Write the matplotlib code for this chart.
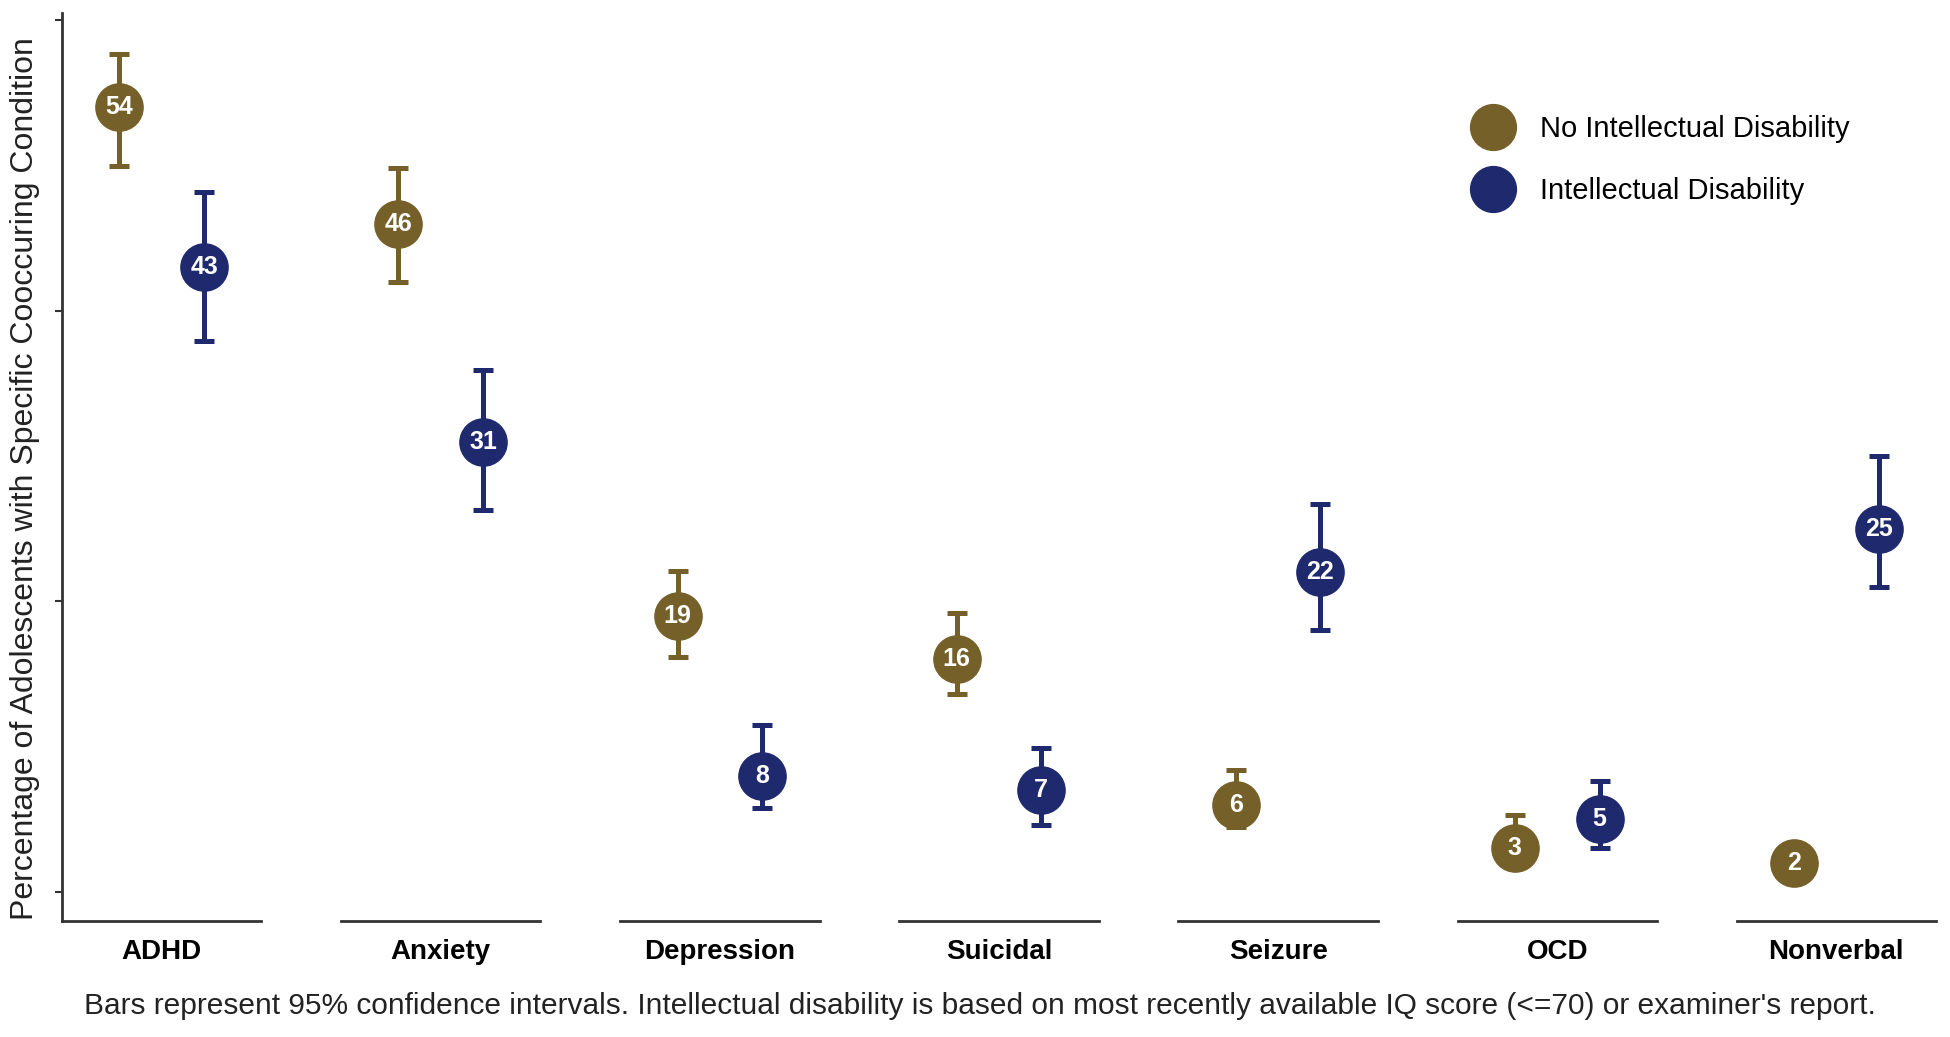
import matplotlib.pyplot as plt
from matplotlib.lines import Line2D

plt.rcParams['font.family'] = ['Liberation Sans', 'DejaVu Sans']

categories = ['ADHD', 'Anxiety', 'Depression', 'Suicidal', 'Seizure', 'OCD', 'Nonverbal']
series_names = ['No Intellectual Disability', 'Intellectual Disability']

# percentages and 95% CI bounds
no_id = [54, 46, 19, 16, 6, 3, 2]
no_id_lo = [50.0, 42.0, 16.2, 13.6, 4.5, 2.0, 1.3]
no_id_hi = [57.7, 49.8, 22.1, 19.2, 8.4, 5.3, 2.8]
yes_id = [43, 31, 8, 7, 22, 5, 25]
yes_id_lo = [37.9, 26.3, 5.8, 4.6, 18.0, 3.0, 21.0]
yes_id_hi = [48.2, 35.9, 11.5, 9.9, 26.7, 7.6, 30.0]

gold = '#76602A'
navy = '#1F2A6E'
colors = [gold, navy]

fig, axes = plt.subplots(1, len(categories), sharey=True, figsize=(19.5, 10.37), dpi=100)
fig.subplots_adjust(left=0.0318, right=0.9928, bottom=0.1119, top=0.9875, wspace=0.4)

series = [(no_id, no_id_lo, no_id_hi), (yes_id, yes_id_lo, yes_id_hi)]

for i, (ax, cat) in enumerate(zip(axes, categories)):
    for k, (vals, lo, hi) in enumerate(series):
        v = vals[i]
        ax.errorbar([k], [v], yerr=[[v - lo[i]], [hi[i] - v]], fmt='none',
                    ecolor=colors[k], elinewidth=3.6, capsize=7, capthick=3.6, zorder=2)
        ax.plot([k], [v], 'o', color=colors[k], markersize=34, zorder=3)
        ax.text(k, v, str(v), ha='center', va='center', color='white',
                fontsize=18, fontweight='bold', zorder=4)
    ax.set_xlim(-0.676, 1.676)
    ax.set_ylim(-2, 60.5)
    ax.set_xticks([0.5])
    ax.set_xticklabels([cat], fontsize=20, fontweight='bold')
    ax.tick_params(axis='x', length=0, pad=13)
    for side in ['top', 'right', 'left']:
        ax.spines[side].set_visible(False)
    ax.spines['bottom'].set_linewidth(2)
    ax.spines['bottom'].set_color('#333333')
    if i == 0:
        ax.spines['left'].set_visible(True)
        ax.spines['left'].set_linewidth(2)
        ax.spines['left'].set_color('#333333')
        ax.set_yticks([0, 20, 40, 60])
        ax.set_yticklabels([])
        ax.tick_params(axis='y', length=5, width=1.5, color='#333333')
    else:
        ax.tick_params(axis='y', left=False)

handles = [Line2D([], [], linestyle='none', marker='o', markersize=33, color=c) for c in colors]
fig.legend(handles, series_names, loc='upper left', bbox_to_anchor=(0.758, 0.889),
           frameon=False, fontsize=21, handlelength=1.0, handletextpad=1.12,
           labelspacing=1.17, borderpad=0, borderaxespad=0)

fig.text(25 / 1950, 1 - 479 / 1037,
         'Percentage of Adolescents with Specific Cooccuring Condition',
         rotation=90, ha='center', va='center', fontsize=23, color='#222222')
fig.text(980 / 1950, 1 - 1006 / 1037,
         "Bars represent 95% confidence intervals. Intellectual disability is based on most "
         "recently available IQ score (<=70) or examiner's report.",
         ha='center', va='center', fontsize=21.5, color='#222222')

fig.savefig('out.png', dpi=100)
